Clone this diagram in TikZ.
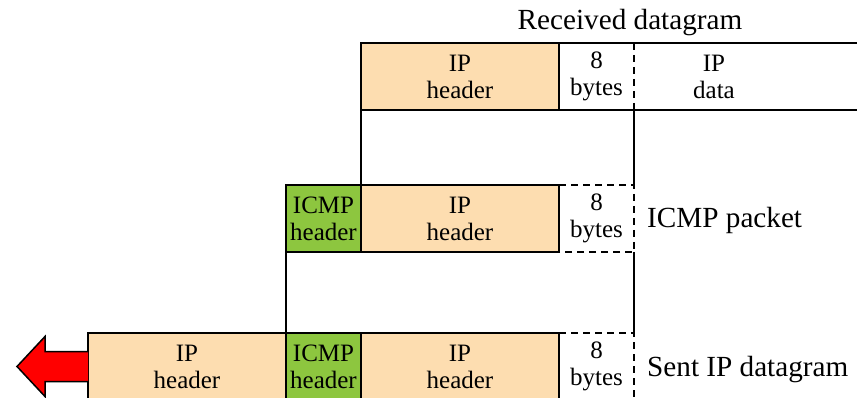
\documentclass[tikz,border=0pt]{standalone}
\usepackage{fontspec}
\setmainfont{Liberation Serif}
\definecolor{peach}{HTML}{FDDDB0}
\definecolor{icmpgreen}{HTML}{8DC63F}
\begin{document}
\begin{tikzpicture}[x=1pt,y=-1pt,
  cell/.style={line width=1.6pt, minimum height=67pt, inner sep=0pt, outer sep=0pt,
    align=center, anchor=north west, font=\fontsize{25}{27}\selectfont},
  solidcell/.style={cell, draw},
  label/.style={font=\fontsize{29.2}{32}\selectfont, inner sep=0pt},
  rule/.style={line width=1.6pt},
  dashrule/.style={line width=1.6pt, dash pattern=on 7pt off 5pt},
  bigarrow/.style={line width=1.5pt, fill=red, line join=miter}]
\useasboundingbox (0,0) rectangle (857,398);
% Row 1: received datagram
\node[solidcell, fill=peach, minimum width=198pt] (r1ip) at (361,43) {IP\\header};
\node[cell, minimum width=75pt] (r1b) at (559,43) {8\\bytes};
\node[cell, minimum width=160pt] (r1d) at (634,43) {IP\\data};
\coordinate (r1endt) at (857,43);
\coordinate (r1endb) at (857,110);
\draw[rule] (r1ip.north east) -- (r1endt);
\draw[rule] (r1ip.south east) -- (r1endb);
\draw[dashrule] (r1b.north east) -- (r1b.south east);
\node[label] (recv) at (630,23) {Received datagram};
% Row 2: ICMP packet
\node[solidcell, fill=icmpgreen, minimum width=75pt] (r2icmp) at (286,185) {ICMP\\header};
\node[solidcell, fill=peach, minimum width=198pt] (r2ip) at (361,185) {IP\\header};
\node[cell, minimum width=75pt] (r2b) at (559,185) {8\\bytes};
\draw[dashrule] (r2ip.north east) -- (r2b.north east) -- (r2b.south east) -- (r2ip.south east);
\node[label, anchor=west] (icmppkt) at (647,220) {ICMP packet};
% Row 3: sent IP datagram
\node[solidcell, fill=peach, minimum width=198pt] (r3iph) at (88,333) {IP\\header};
\node[solidcell, fill=icmpgreen, minimum width=75pt] (r3icmp) at (286,333) {ICMP\\header};
\node[solidcell, fill=peach, minimum width=198pt] (r3ip) at (361,333) {IP\\header};
\node[cell, minimum width=75pt] (r3b) at (559,333) {8\\bytes};
\draw[dashrule] (r3ip.north east) -- (r3b.north east) -- (r3b.south east);
\node[label, anchor=west] (sent) at (647,370) {Sent IP datagram};
% connectors between rows
\draw[rule] (r1ip.south west) -- (r2ip.north west);
\draw[rule] (r1b.south east) -- (r2b.north east);
\draw[rule] (r2icmp.south west) -- (r3icmp.north west);
\draw[rule] (r2b.south east) -- (r3b.north east);
% red arrow
\draw[bigarrow] (r3iph.west) ++(0,-15) -- ++(-43,0) -- ++(0,-15) -- ++(-28,30)
  -- ++(28,30) -- ++(0,-15) -- ++(43,0);
\end{tikzpicture}
\end{document}
